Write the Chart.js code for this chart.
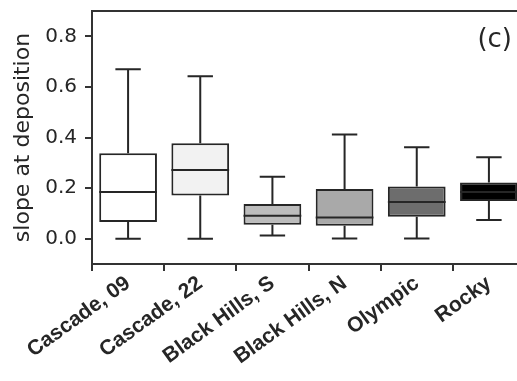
<!DOCTYPE html>
<html>
<head>
<meta charset="utf-8">
<script src="https://cdn.jsdelivr.net/npm/chart.js@4.4.1/dist/chart.umd.min.js"></script>
<style>
  html, body { margin: 0; padding: 0; background: #fff; overflow: hidden; }
  #wrap { width: 517px; height: 381px; overflow: hidden; position: relative; }
  #c { position: absolute; left: 0; top: 0; }
</style>
</head>
<body>
<div id="wrap"><canvas id="c" width="540" height="381"></canvas></div>
<script>
// Data
const sites   = ['Cascade, 09', 'Cascade, 22', 'Black Hills, S', 'Black Hills, N', 'Olympic', 'Rocky'];
const whiskLo = [0.000, 0.000, 0.013, 0.001, 0.001, 0.074];
const q1      = [0.066, 0.171, 0.055, 0.051, 0.087, 0.149];
const med     = [0.185, 0.272, 0.091, 0.084, 0.145, 0.185];
const q3      = [0.338, 0.377, 0.137, 0.196, 0.206, 0.222];
const whiskHi = [0.670, 0.642, 0.245, 0.412, 0.361, 0.322];
const yTicks  = [0, 0.2, 0.4, 0.6, 0.8];

const fills = ['#ffffff', '#f2f2f2', '#bcbcbc', '#a9a9a9', '#6d6d6d', '#000000'];
const ink = '#262626';

// whiskers, caps, medians and the frame
const boxParts = {
  id: 'boxParts',
  afterDatasetsDraw(chart) {
    const { ctx, scales: { x, y } } = chart;
    const meta = chart.getDatasetMeta(0);
    ctx.save();
    ctx.strokeStyle = ink;
    ctx.lineWidth = 2;
    sites.forEach((s, i) => {
      const cx = x.getPixelForValue(i);
      const w = meta.data[i].width;
      const cap = w * 0.22;
      ctx.beginPath();
      ctx.moveTo(cx, y.getPixelForValue(q3[i]));
      ctx.lineTo(cx, y.getPixelForValue(whiskHi[i]));
      ctx.moveTo(cx, y.getPixelForValue(q1[i]));
      ctx.lineTo(cx, y.getPixelForValue(whiskLo[i]));
      ctx.moveTo(cx - cap, y.getPixelForValue(whiskHi[i]));
      ctx.lineTo(cx + cap, y.getPixelForValue(whiskHi[i]));
      ctx.moveTo(cx - cap, y.getPixelForValue(whiskLo[i]));
      ctx.lineTo(cx + cap, y.getPixelForValue(whiskLo[i]));
      ctx.moveTo(cx - w / 2, y.getPixelForValue(med[i]));
      ctx.lineTo(cx + w / 2, y.getPixelForValue(med[i]));
      ctx.stroke();
    });
    const a = chart.chartArea;
    ctx.strokeStyle = '#333';
    ctx.lineWidth = 2;
    ctx.strokeRect(a.left, a.top, a.right - a.left, a.bottom - a.top);
    ctx.fillStyle = '#262626';
    ctx.font = '26px "DejaVu Sans"';
    ctx.textAlign = 'right';
    ctx.textBaseline = 'middle';
    ctx.fillText('(c)', 512, 40);
    ctx.restore();
  }
};

new Chart(document.getElementById('c'), {
  type: 'bar',
  data: {
    labels: sites,
    datasets: [{
      data: sites.map((s, i) => [q1[i], q3[i]]),
      backgroundColor: fills,
      borderColor: ink,
      borderWidth: 2,
      borderSkipped: false,
      barPercentage: 0.8,
      categoryPercentage: 1.0
    }]
  },
  options: {
    responsive: false,
    animation: false,
    layout: { padding: { top: 11, right: 15, left: 0, bottom: 0 } },
    plugins: { legend: { display: false }, tooltip: { enabled: false } },
    scales: {
      x: {
        offset: true,
        afterFit: s => { s.height = 117; s.paddingLeft = 0; s.paddingRight = 0; },
        grid: { display: true, drawOnChartArea: false, drawTicks: true, tickLength: 7, color: '#333', lineWidth: 2 },
        border: { display: true, color: '#333', width: 2 },
        ticks: {
          autoSkip: false, minRotation: 36, maxRotation: 36, padding: 0,
          color: '#262626', font: { family: '"Liberation Sans", Arial', size: 21, weight: 'bold' }
        }
      },
      y: {
        min: -0.1, max: 0.9,
        afterFit: s => { s.width = 92; s.paddingTop = 0; s.paddingBottom = 0; },
        afterBuildTicks: s => { s.ticks = yTicks.map(v => ({ value: v })); },
        grid: { display: true, drawOnChartArea: false, drawTicks: true, tickLength: 7, color: '#333', lineWidth: 2 },
        border: { display: true, color: '#333', width: 2 },
        title: {
          display: true, text: 'slope at deposition', color: '#262626',
          font: { family: '"DejaVu Sans"', size: 22 }, padding: { top: 10, bottom: 0 }
        },
        ticks: {
          padding: 8, color: '#262626',
          font: { family: '"DejaVu Sans"', size: 20 },
          callback: v => v.toFixed(1)
        }
      }
    }
  },
  plugins: [boxParts]
});
</script>
</body>
</html>
